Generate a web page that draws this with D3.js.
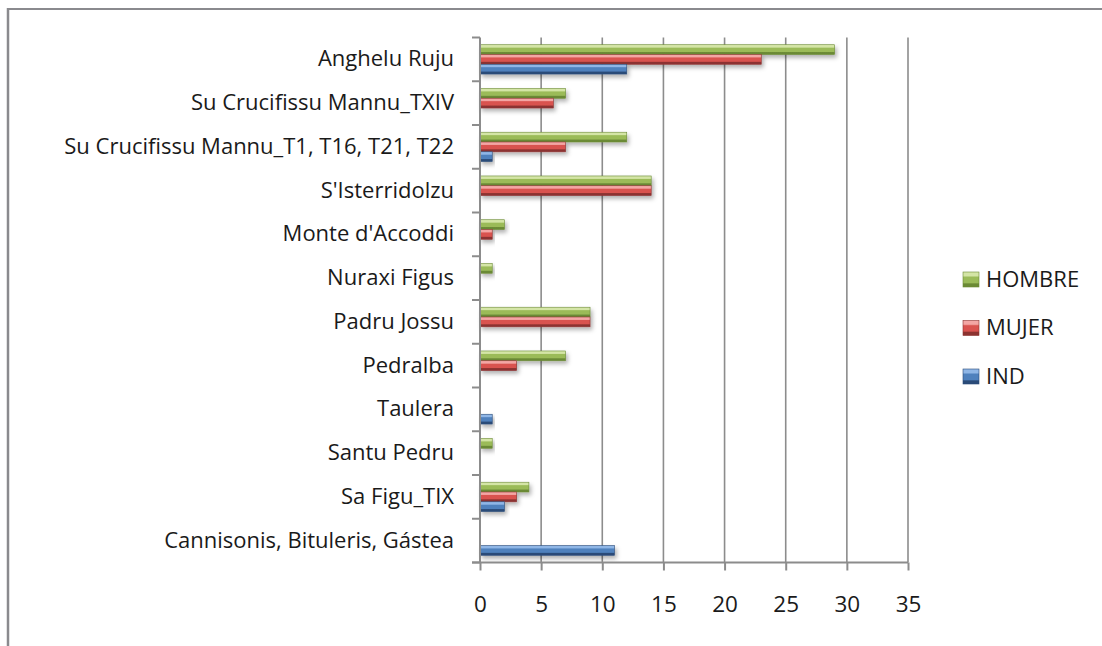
<!DOCTYPE html>
<html><head><meta charset="utf-8">
<script src="https://cdn.jsdelivr.net/npm/d3@7"></script>
<style>
html,body{margin:0;padding:0;background:#fff;}
svg{display:block;}
text{font-family:"Open Sans",Lato,sans-serif;fill:#1a1a1a;}
</style></head><body>
<svg id="c" width="1102" height="646"></svg>
<script>
const categories = ["Anghelu Ruju","Su Crucifissu Mannu_TXIV","Su Crucifissu Mannu_T1, T16, T21, T22","S'Isterridolzu","Monte d'Accoddi","Nuraxi Figus","Padru Jossu","Pedralba","Taulera","Santu Pedru","Sa Figu_TIX","Cannisonis, Bituleris, Gástea"];
const seriesNames = ["HOMBRE","MUJER","IND"];
const hombre = [29,7,12,14,2,1,9,7,0,1,4,0];
const mujer  = [23,6,7,14,1,0,9,3,0,0,3,0];
const ind    = [12,0,1,0,0,0,0,0,1,0,2,11];
const xTicks = [0,5,10,15,20,25,30,35];

const seriesVals = [hombre, mujer, ind];
const colors = {
  HOMBRE:{light:"#d4e5a6", base:"#9bbb59", dark:"#6b8a35"},
  MUJER:{light:"#f3a6a4", base:"#d9534f", dark:"#8c3330"},
  IND:{light:"#8fb6e6", base:"#4f81bd", dark:"#2a4b78"}
};
const FONT = "'Open Sans',Lato,sans-serif";

const svg = d3.select("#c");
const defs = svg.append("defs");
seriesNames.forEach(s=>{
  const c = colors[s];
  const g = defs.append("linearGradient").attr("id","g_"+s).attr("x1",0).attr("y1",0).attr("x2",0).attr("y2",1);
  g.append("stop").attr("offset","0%").attr("stop-color",c.light);
  g.append("stop").attr("offset","25%").attr("stop-color",c.light);
  g.append("stop").attr("offset","35%").attr("stop-color",c.base);
  g.append("stop").attr("offset","70%").attr("stop-color",c.base);
  g.append("stop").attr("offset","80%").attr("stop-color",c.dark);
  g.append("stop").attr("offset","100%").attr("stop-color",c.dark);
});
const f = defs.append("filter").attr("id","sh").attr("x","-10%").attr("y","-50%").attr("width","130%").attr("height","250%");
f.append("feDropShadow").attr("dx",2).attr("dy",3).attr("stdDeviation",2).attr("flood-color","#000").attr("flood-opacity",0.3);

// outer border (chart area)
svg.append("line").attr("x1",8).attr("x2",1102).attr("y1",9).attr("y2",9).attr("stroke","#8a8a8e").attr("stroke-width",2);
svg.append("line").attr("x1",8).attr("x2",8).attr("y1",8).attr("y2",646).attr("stroke","#8a8a8e").attr("stroke-width",2.5);

const pLeft = 480, pRight = 908, pTop = 37.5, pBottom = 562.5;
const x = d3.scaleLinear().domain([0,35]).range([pLeft,pRight]);
const y = d3.scaleBand().domain(categories).range([pTop,pBottom]).paddingInner(0.33).paddingOuter(0.165);
const ySub = d3.scaleBand().domain(seriesNames).range([0,y.bandwidth()]);

// gridlines
svg.append("g").selectAll("line").data(xTicks.slice(1)).join("line")
  .attr("x1",d=>x(d)).attr("x2",d=>x(d)).attr("y1",pTop).attr("y2",pBottom)
  .attr("stroke","#8c8c8c").attr("stroke-width",1.6);

// bars
const bandStep = (pBottom-pTop)/categories.length;
seriesNames.forEach((s,si)=>{
  svg.append("g").selectAll("rect").data(categories.map((c,i)=>({c,v:seriesVals[si][i]})).filter(d=>d.v>0)).join("rect")
    .attr("x",x(0)).attr("y",d=>y(d.c)+ySub(s))
    .attr("width",d=>x(d.v)-x(0)).attr("height",ySub.bandwidth())
    .attr("fill","url(#g_"+s+")").attr("filter","url(#sh)")
    .attr("stroke",colors[s].dark).attr("stroke-width",0.6);
});

// measure font size so the longest label spans like the reference (~415px)
const probe = svg.append("text").attr("font-size",20).style("font-family",FONT).text(categories[2]);
const w20 = probe.node().getComputedTextLength();
probe.remove();
const fs = Math.max(16, Math.min(22, 20*415/w20));

// x axis
const xa = svg.append("g").attr("transform",`translate(0,${pBottom})`)
  .call(d3.axisBottom(x).tickValues(xTicks).tickSize(8).tickPadding(26).tickSizeOuter(0));
xa.select(".domain").attr("stroke","#8c8c8c").attr("stroke-width",2).attr("d",`M${pLeft-8},0H${pRight}`);
xa.selectAll(".tick line").attr("stroke","#8c8c8c").attr("stroke-width",2);
xa.selectAll("text").attr("font-size",fs+0.5).attr("fill","#1a1a1a").style("font-family",FONT);

// y axis
const ya = svg.append("g").attr("transform",`translate(${pLeft},0)`)
  .call(d3.axisLeft(y).tickSize(0).tickPadding(26));
ya.select(".domain").attr("stroke","#8c8c8c").attr("stroke-width",2).attr("d",`M0,${pTop}V${pBottom}`);
ya.selectAll("text").attr("font-size",fs).attr("fill","#1a1a1a").style("font-family",FONT);
// category boundary ticks
svg.append("g").selectAll("line").data(d3.range(categories.length+1)).join("line")
  .attr("x1",pLeft-8).attr("x2",pLeft).attr("y1",i=>pTop+i*bandStep).attr("y2",i=>pTop+i*bandStep)
  .attr("stroke","#8c8c8c").attr("stroke-width",2);

// legend
const lg = svg.append("g");
seriesNames.forEach((s,i)=>{
  const yy = 279 + i*48.5;
  lg.append("rect").attr("x",963).attr("y",yy-7).attr("width",16).attr("height",15)
    .attr("fill","url(#g_"+s+")").attr("stroke",colors[s].dark).attr("stroke-width",0.6);
  lg.append("text").attr("x",986).attr("y",yy).attr("dy","0.35em").attr("font-size",fs).style("font-family",FONT).text(s);
});
</script></body></html>
